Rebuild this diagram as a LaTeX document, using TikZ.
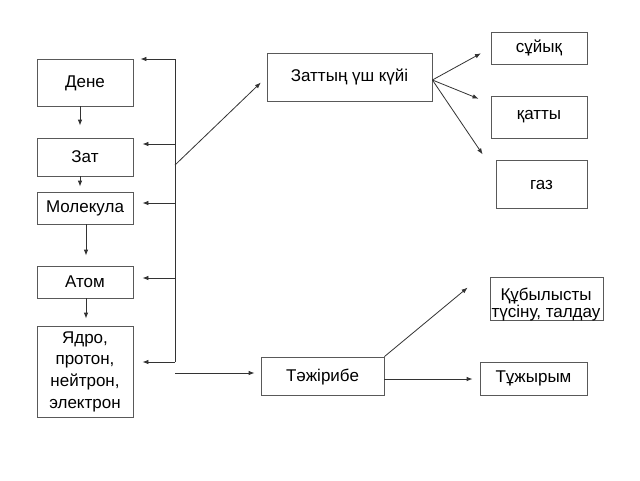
\documentclass[tikz,border=0pt]{standalone}
\usepackage{fontspec}
\setmainfont{Liberation Sans}
\usetikzlibrary{arrows.meta,calc}
\begin{document}
\begin{tikzpicture}[x=1pt,y=-1pt,
  box/.style={draw=black!65, line width=0.8pt, rectangle, inner sep=0pt, font=\fontsize{17}{21.7}\selectfont, align=center},
  txt/.style={inner sep=0pt, font=\fontsize{17}{17}\selectfont, align=center},
  arr/.style={draw=black!80, line width=0.8pt, -{Latex[length=6pt,width=4.5pt]}},
  ln/.style={draw=black!80, line width=0.8pt}]
\useasboundingbox (0,0) rectangle (640,480);
\fill[white] (0,0) rectangle (640,480);
% left column
\node[box, minimum width=96pt, minimum height=47pt, text height=12.5pt, text depth=2pt] (dene) at (85,82.5) {Дене};
\node[box, minimum width=96pt, minimum height=38pt, text height=12.5pt, text depth=2pt] (zat) at (85,157) {Зат};
\node[box, minimum width=96pt, minimum height=32pt] (mol) at (85,208) {Молекула};
\node[box, minimum width=96pt, minimum height=32pt, text height=12.5pt, text depth=2pt] (atom) at (85,282) {Атом};
\node[box, minimum width=96pt, minimum height=91pt] (yadro) at (85,371.5) {Ядро,\\протон,\\нейтрон,\\электрон};
% top right
\node[box, minimum width=165pt, minimum height=48pt] (zattyn) at (349.5,77) {Заттың үш күйі};
\node[box, minimum width=96pt, minimum height=32pt] (suyk) at (539,48) {сұйық};
\node[box, minimum width=96pt, minimum height=42pt] (katty) at (539,117) {қатты};
\node[box, minimum width=91pt, minimum height=48pt, text height=12.5pt, text depth=2pt] (gaz) at (541.5,184) {газ};
% bottom right
\node[box, minimum width=113pt, minimum height=43pt] (kub) at (546.5,298.5) {};
\node[txt] (kubt) at (546,305) {Құбылысты\\түсіну, талдау};
\node[box, minimum width=123pt, minimum height=38pt, text height=12.5pt, text depth=2pt] (tazh) at (322.5,376) {Тәжірибе};
\node[box, minimum width=107pt, minimum height=33pt] (tuzh) at (533.5,378.5) {Тұжырым};
% vertical chain arrows
\draw[arr, shorten >=12pt] ([xshift=-5pt]dene.south) -- ([xshift=-5pt]dene.south |- zat.north);
\draw[arr, shorten >=5pt] ([xshift=-5pt]zat.south) -- ([xshift=-5pt]zat.south |- mol.north);
\draw[arr, shorten >=10pt] ([xshift=1pt]mol.south) -- ([xshift=1pt]mol.south |- atom.north);
\draw[arr, shorten >=7pt] ([xshift=1pt]atom.south) -- ([xshift=1pt]atom.south |- yadro.north);
% bus
\coordinate (b1) at (175,59);
\coordinate (b2) at (175,144);
\coordinate (bd) at (175,165);
\coordinate (b3) at (175,203);
\coordinate (b4) at (175,278);
\coordinate (b5) at (175,362);
\draw[ln] (b1) -- (b5);
\draw[arr, shorten >=7pt] (b1) -- (b1 -| dene.east);
\draw[arr, shorten >=9pt] (b2) -- (b2 -| zat.east);
\draw[arr, shorten >=9pt] (b3) -- (b3 -| mol.east);
\draw[arr, shorten >=9pt] (b4) -- (b4 -| atom.east);
\draw[arr, shorten >=9pt] (b5) -- (b5 -| yadro.east);
\draw[arr, shorten >=8pt] (bd) -- (zattyn.west);
% states
\coordinate (zs) at ($(zattyn.east)+(0,3)$);
\draw[arr, shorten >=11pt] (zs) -- (suyk.west);
\draw[arr, shorten >=13pt] (zs) -- ($(katty.north west)+(0,8)$);
\draw[arr, shorten >=16pt] (zs) -- ($(gaz.north west)+(-4,8)$);
% bottom
\coordinate (bl) at (175,373);
\draw[arr, shorten >=6pt] (bl) -- (bl -| tazh.west);
\draw[arr, shorten >=7pt] ([yshift=-3pt]tazh.east) -- ([yshift=-3pt]tazh.east -| tuzh.west);
\draw[arr] (tazh.north east) -- ($(kub.north west)+(-22,11)$);
\end{tikzpicture}
\end{document}
